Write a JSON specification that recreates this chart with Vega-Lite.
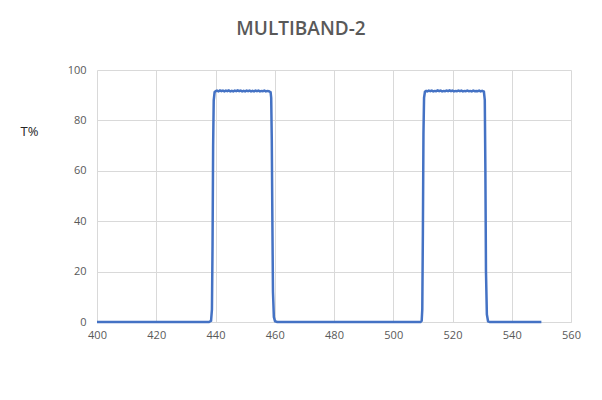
{
  "$schema": "https://vega.github.io/schema/vega-lite/v6.json",
  "autosize": "none",
  "width": 474,
  "height": 252,
  "padding": {"left": 97, "top": 70, "right": 31, "bottom": 78},
  "background": "white",
  "title": {
    "text": "MULTIBAND-2",
    "font": "Open Sans",
    "fontSize": 19,
    "fontWeight": 600,
    "letterSpacing": 1.2,
    "color": "#595959",
    "anchor": "middle",
    "dx": -33,
    "offset": 25
  },
  "config": {
    "view": {"stroke": null},
    "axis": {
      "labelFont": "Open Sans",
      "labelFontSize": 11,
      "labelColor": "#595959",
      "gridColor": "#d9d9d9",
      "gridWidth": 1,
      "ticks": false
    }
  },
  "data": {
    "values": [
      {"wl": 400, "t": 0}, {"wl": 420, "t": 0}, {"wl": 437.8, "t": 0},
      {"wl": 438.5, "t": 0.5}, {"wl": 438.8, "t": 5}, {"wl": 439.0, "t": 30},
      {"wl": 439.2, "t": 70}, {"wl": 439.4, "t": 88}, {"wl": 439.7, "t": 91.2},
      {"wl": 440.1, "t": 91.6}, {"wl": 440.5, "t": 91.8}, {"wl": 441, "t": 91.5},
      {"wl": 441.5, "t": 91.9}, {"wl": 442, "t": 91.6}, {"wl": 442.5, "t": 91.8},
      {"wl": 443, "t": 91.5}, {"wl": 443.5, "t": 91.8}, {"wl": 444, "t": 91.6},
      {"wl": 444.5, "t": 91.9}, {"wl": 445, "t": 91.5}, {"wl": 445.5, "t": 91.7},
      {"wl": 446, "t": 91.5}, {"wl": 446.5, "t": 91.8}, {"wl": 447, "t": 91.6},
      {"wl": 447.5, "t": 91.9}, {"wl": 448, "t": 91.6}, {"wl": 448.5, "t": 91.8},
      {"wl": 449, "t": 91.5}, {"wl": 449.5, "t": 91.7}, {"wl": 450, "t": 91.5},
      {"wl": 450.5, "t": 91.8}, {"wl": 451, "t": 91.6}, {"wl": 451.5, "t": 91.8},
      {"wl": 452, "t": 91.5}, {"wl": 452.5, "t": 91.7}, {"wl": 453, "t": 91.5},
      {"wl": 453.5, "t": 91.8}, {"wl": 454, "t": 91.6}, {"wl": 454.5, "t": 91.8},
      {"wl": 455, "t": 91.5}, {"wl": 455.5, "t": 91.7}, {"wl": 456, "t": 91.6},
      {"wl": 456.5, "t": 91.8}, {"wl": 457, "t": 91.5}, {"wl": 457.5, "t": 91.7},
      {"wl": 458, "t": 91.6}, {"wl": 458.6, "t": 91.2}, {"wl": 458.8, "t": 89},
      {"wl": 459.0, "t": 72}, {"wl": 459.2, "t": 40}, {"wl": 459.4, "t": 12},
      {"wl": 459.7, "t": 2}, {"wl": 460.1, "t": 0.3}, {"wl": 460.8, "t": 0},
      {"wl": 480, "t": 0}, {"wl": 500, "t": 0}, {"wl": 509.2, "t": 0},
      {"wl": 509.6, "t": 0.5}, {"wl": 509.8, "t": 5}, {"wl": 510.0, "t": 35},
      {"wl": 510.2, "t": 75}, {"wl": 510.4, "t": 89}, {"wl": 510.7, "t": 91.4},
      {"wl": 511.1, "t": 91.7}, {"wl": 511.5, "t": 91.5}, {"wl": 512, "t": 91.8},
      {"wl": 512.5, "t": 91.6}, {"wl": 513, "t": 91.8}, {"wl": 513.5, "t": 91.5},
      {"wl": 514, "t": 91.7}, {"wl": 514.5, "t": 91.6}, {"wl": 515, "t": 91.9},
      {"wl": 515.5, "t": 91.6}, {"wl": 516, "t": 91.8}, {"wl": 516.5, "t": 91.5},
      {"wl": 517, "t": 91.7}, {"wl": 517.5, "t": 91.6}, {"wl": 518, "t": 91.8},
      {"wl": 518.5, "t": 91.6}, {"wl": 519, "t": 91.9}, {"wl": 519.5, "t": 91.6},
      {"wl": 520, "t": 91.8}, {"wl": 520.5, "t": 91.5}, {"wl": 521, "t": 91.7},
      {"wl": 521.5, "t": 91.6}, {"wl": 522, "t": 91.8}, {"wl": 522.5, "t": 91.6},
      {"wl": 523, "t": 91.8}, {"wl": 523.5, "t": 91.5}, {"wl": 524, "t": 91.7},
      {"wl": 524.5, "t": 91.6}, {"wl": 525, "t": 91.8}, {"wl": 525.5, "t": 91.6},
      {"wl": 526, "t": 91.7}, {"wl": 526.5, "t": 91.5}, {"wl": 527, "t": 91.8},
      {"wl": 527.5, "t": 91.6}, {"wl": 528, "t": 91.7}, {"wl": 528.5, "t": 91.6},
      {"wl": 529, "t": 91.8}, {"wl": 529.5, "t": 91.5}, {"wl": 530, "t": 91.7},
      {"wl": 530.6, "t": 91.4}, {"wl": 530.9, "t": 88}, {"wl": 531.1, "t": 60},
      {"wl": 531.3, "t": 20}, {"wl": 531.6, "t": 3}, {"wl": 532.0, "t": 0.3},
      {"wl": 532.6, "t": 0}, {"wl": 540, "t": 0}, {"wl": 550, "t": 0}
    ]
  },
  "mark": {"type": "line", "color": "#4472C4", "strokeWidth": 2.5, "interpolate": "linear"},
  "encoding": {
    "x": {
      "field": "wl",
      "type": "quantitative",
      "scale": {"domain": [400, 560], "nice": false, "zero": false},
      "axis": {
        "values": [400, 420, 440, 460, 480, 500, 520, 540, 560],
        "title": null,
        "domainColor": "#d9d9d9",
        "labelPadding": 7,
        "labelFlush": false,
        "grid": true
      }
    },
    "y": {
      "field": "t",
      "type": "quantitative",
      "scale": {"domain": [0, 100], "nice": false},
      "axis": {
        "values": [0, 20, 40, 60, 80, 100],
        "domain": false,
        "labelPadding": 11,
        "labelFlush": false,
        "title": "T%",
        "titleAngle": 0,
        "titleX": -77,
        "titleY": 61,
        "titleAlign": "left",
        "titleBaseline": "middle",
        "titleFont": "Open Sans",
        "titleFontSize": 13,
        "titleFontWeight": "normal",
        "titleColor": "#262626"
      }
    }
  }
}
